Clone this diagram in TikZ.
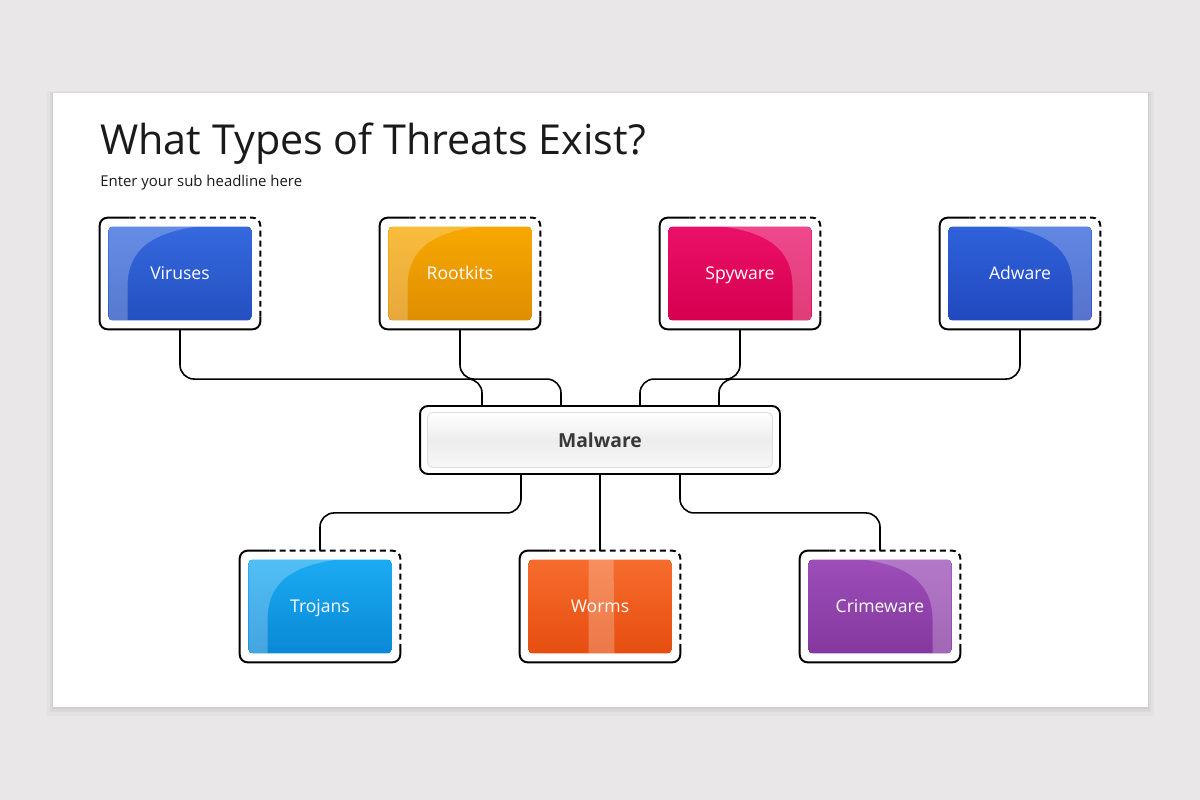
\documentclass[tikz,border=0pt]{standalone}
\usepackage{fontspec}
\setmainfont{Open Sans}
\usetikzlibrary{calc,positioning}

\definecolor{slidebg}{HTML}{E9E7E8}
\definecolor{titletext}{HTML}{1A1A1A}
\definecolor{virtop}{HTML}{3569DE}\definecolor{virbot}{HTML}{2450C0}
\definecolor{roottop}{HTML}{F7A800}\definecolor{rootbot}{HTML}{DF8E00}
\definecolor{spytop}{HTML}{EA1068}\definecolor{spybot}{HTML}{D6004E}
\definecolor{adtop}{HTML}{2F62DA}\definecolor{adbot}{HTML}{2248BE}
\definecolor{trotop}{HTML}{1BABF2}\definecolor{trobot}{HTML}{0A88D6}
\definecolor{wormtop}{HTML}{F66C2C}\definecolor{wormbot}{HTML}{E64E10}
\definecolor{crimetop}{HTML}{9D4EB9}\definecolor{crimebot}{HTML}{84389E}

\tikzset{
  outerbox/.style={minimum width=3.2cm,minimum height=2.22cm,inner sep=0pt},
  boxline/.style={line width=1.1pt,rounded corners=4.5pt},
  dashline/.style={boxline,dash pattern=on 3.4pt off 2.3pt},
  link/.style={line width=0.9pt,rounded corners=8pt},
  tlabel/.style={text=white,anchor=base,inner sep=0pt,font=\fontsize{10}{12}\selectfont},
}

% highlight shapes, in px from the inner top left corner
\def\hlleft{(0,0) -- (89,0) .. controls (45,6) and (19,22) .. (19,60) -- (19,94) -- (0,94) -- cycle}
\def\hlright{(143,0) -- (54,0) .. controls (98,6) and (124,22) .. (124,60) -- (124,94) -- (143,94) -- cycle}
\def\hlmid{(60,0) -- (85,0) -- (86,94) -- (60,94) -- cycle}

% name, text, top colour, bottom colour, highlight
\newcommand{\threatbox}[5]{%
  \draw[boxline] ($(#1.north west)+(0.6cm,0)$) -- (#1.north west) -- (#1.south west) -- (#1.south east) -- ($(#1.south east)+(0,0.25cm)$);
  \draw[dashline] ($(#1.north west)+(0.6cm,0)$) -- (#1.north east) -- ($(#1.south east)+(0,0.25cm)$);
  \begin{scope}
    \path[clip,rounded corners=2.3pt] ($(#1.center)+(-1.43cm,0.94cm)$) rectangle ($(#1.center)+(1.43cm,-0.94cm)$);
    \fill[top color=#3,bottom color=#4] ($(#1.center)+(-1.43cm,0.94cm)$) rectangle ($(#1.center)+(1.43cm,-0.94cm)$);
    \begin{scope}[shift={($(#1.center)+(-1.43cm,0.94cm)$)}]
      \fill[white,opacity=0.24] #5;
    \end{scope}
  \end{scope}
  \node[tlabel] at ($(#1.center)+(0,-0.12cm)$) {#2};
}

\begin{document}
\begin{tikzpicture}[x=0.02cm,y=-0.02cm]
  %%%%% SLIDE %%%%%
  \fill[slidebg] (0,0) rectangle (1200,800);
  \useasboundingbox (0,0) rectangle (1200,800);
  \fill[black,opacity=0.025] (47,91) rectangle (1154,716);
  \fill[black,opacity=0.035] (50,92) rectangle (1151,712);
  \fill[black,opacity=0.045] (52,93) rectangle (1149,709);
  \fill[white] (53,93) rectangle (1148,707);

  \node[anchor=base west,inner sep=0pt,text=titletext,font=\fontsize{23.5}{28}\selectfont] (title) at (100,155) {What Types of Threats Exist?};
  \node[anchor=base west,inner sep=0pt,text=titletext,font=\fontsize{8.5}{10}\selectfont] (subtitle) at (100,187) {Enter your sub headline here};

  %%%%% BOXES %%%%%
  \node[outerbox] (viruses) at (180,273.5) {};
  \node[outerbox] (rootkits) at (460,273.5) {};
  \node[outerbox] (spyware) at (740,273.5) {};
  \node[outerbox] (adware) at (1020,273.5) {};
  \node[outerbox] (trojans) at (320,606.5) {};
  \node[outerbox] (worms) at (600,606.5) {};
  \node[outerbox] (crimeware) at (880,606.5) {};

  \threatbox{viruses}{Viruses}{virtop}{virbot}{\hlleft}
  \threatbox{rootkits}{Rootkits}{roottop}{rootbot}{\hlleft}
  \threatbox{spyware}{Spyware}{spytop}{spybot}{\hlright}
  \threatbox{adware}{Adware}{adtop}{adbot}{\hlright}
  \threatbox{trojans}{Trojans}{trotop}{trobot}{\hlleft}
  \threatbox{worms}{Worms}{wormtop}{wormbot}{\hlmid}
  \threatbox{crimeware}{Crimeware}{crimetop}{crimebot}{\hlright}

  %%%%% MALWARE %%%%%
  \node[draw,line width=1.1pt,rounded corners=4.5pt,minimum width=7.2cm,minimum height=1.36cm,inner sep=0pt] (malware) at (600,440) {};
  \node[draw=black!13,line width=0.5pt,rounded corners=3pt,minimum width=6.9cm,minimum height=1.1cm,
        top color=white,bottom color=white!97!black,middle color=white!93!black,
        text=black!78,font=\bfseries\fontsize{11}{13}\selectfont] (malwaretext) at (malware.center) {Malware};

  \coordinate (mv) at ($(malware.north)+(-2.36cm,0)$);
  \coordinate (mr) at ($(malware.north)+(-0.78cm,0)$);
  \coordinate (ms) at ($(malware.north)+(0.8cm,0)$);
  \coordinate (ma) at ($(malware.north)+(2.38cm,0)$);
  \coordinate (mt) at ($(malware.south)+(-1.58cm,0)$);
  \coordinate (mc) at ($(malware.south)+(1.6cm,0)$);

  %%%%% LINKS %%%%%
  \draw[link] (viruses.south) |- ($(mv)+(0,0.52cm)$) -- (mv);
  \draw[link] (rootkits.south) |- ($(mr)+(0,0.52cm)$) -- (mr);
  \draw[link] (spyware.south) |- ($(ms)+(0,0.52cm)$) -- (ms);
  \draw[link] (adware.south) |- ($(ma)+(0,0.52cm)$) -- (ma);
  \draw[link] (mt) -- ($(mt)+(0,-0.76cm)$) -| (trojans.north);
  \draw[link] (malware.south) -- (worms.north);
  \draw[link] (mc) -- ($(mc)+(0,-0.76cm)$) -| (crimeware.north);
\end{tikzpicture}
\end{document}
